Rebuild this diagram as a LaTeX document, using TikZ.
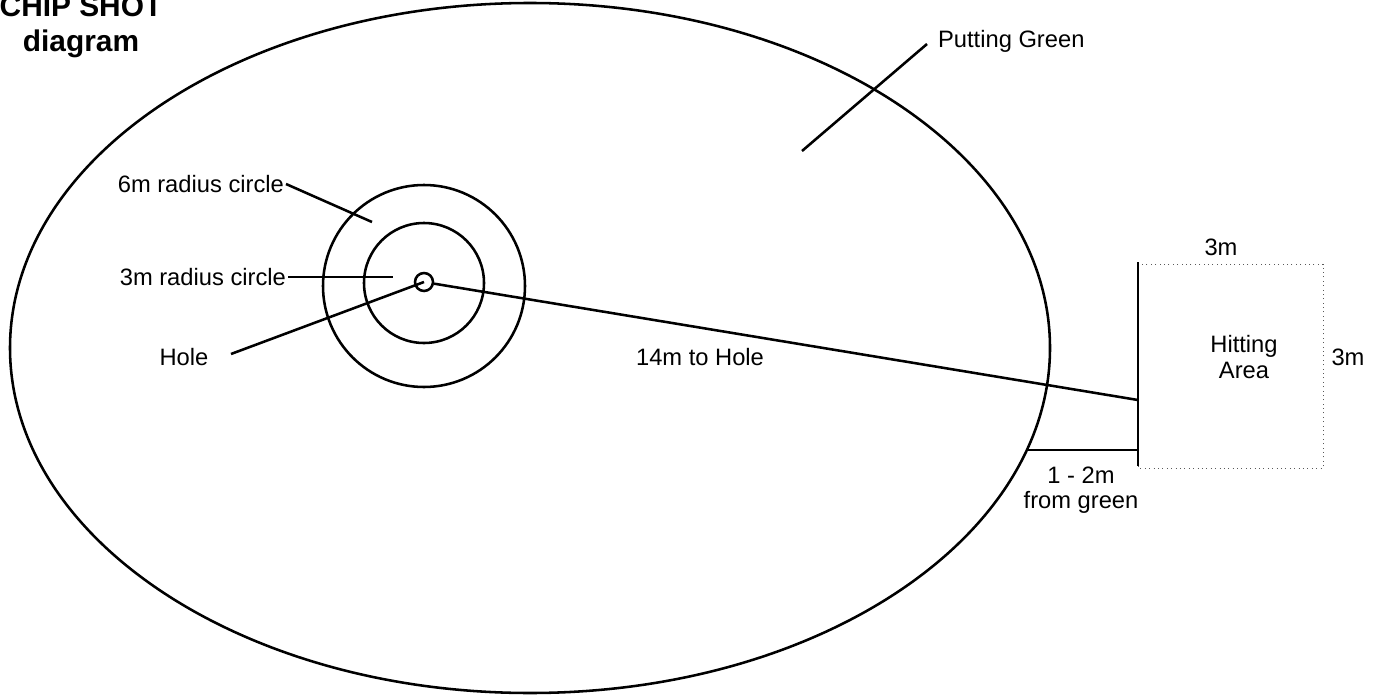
\documentclass[tikz,border=0pt]{standalone}
\usepackage{fontspec}
\setmainfont{Liberation Sans}
\usetikzlibrary{positioning}
\tikzset{
  outline/.style={line width=1.45pt},
  leader/.style={line width=1.45pt},
  lbl/.style={font=\fontsize{13.5}{14.5}\selectfont,inner sep=1pt,align=center},
  title/.style={font=\fontsize{17}{20}\selectfont\bfseries,inner sep=0pt},
  areaedge/.style={draw=black!65,dotted,line width=0.5pt},
  holemark/.style={circle,draw,line width=1.45pt,minimum size=0.36cm,inner sep=0pt},
}
\begin{document}
\begin{tikzpicture}[x=0.02cm,y=-0.02cm]
  \useasboundingbox (0,0) rectangle (1376,696);
  % putting green and target circles
  \draw[outline] (530,348) ellipse [x radius=520,y radius=345];
  \draw[outline] (424,286) circle [radius=101];
  \draw[outline] (424,283) circle [radius=60];
  \node[holemark] (hole) at (424,282) {};

  % title
  \node[title,anchor=base] (title1) at (81,17) {CHIP SHOT};
  \node[title,anchor=base] (title2) at (81,52) {diagram};

  % labels with leaders
  \node[lbl,anchor=east] (sixlbl) at (286,184) {6m radius circle};
  \coordinate (sixend) at (372,222);
  \draw[leader] (sixlbl.east) -- (sixend);
  \node[lbl,anchor=east] (threelbl) at (288,277) {3m radius circle};
  \coordinate (threeend) at (393,277);
  \draw[leader] (threelbl.east) -- (threeend);
  \node[lbl] (holelbl) at (184,357) {Hole};
  \coordinate (holestart) at (231,354);
  \draw[leader] (holestart) -- (hole.center);
  \node[lbl,anchor=west] (pglbl) at (936,41) {Putting Green};
  \coordinate (pgstart) at (927,44);
  \coordinate (pgend) at (802,151);
  \draw[leader] (pgstart) -- (pgend);

  % hitting area
  \draw[areaedge] (1138,264) rectangle (1323,468);
  \coordinate (bartop) at (1138,262);
  \coordinate (barbot) at (1138,466);
  \draw[outline] (bartop) -- (barbot);
  \node[lbl] (area) at (1244,357) {Hitting\\Area};
  \node[lbl] (widthlbl) at (1221,247) {3m};
  \node[lbl] (depthlbl) at (1348,357) {3m};

  % shot line and gap
  \coordinate (tee) at (1138,400);
  \draw[outline] (hole) -- (tee);
  \node[lbl] (distlbl) at (700,357) {14m to Hole};
  \coordinate (edge) at (1027,450);
  \coordinate (barmid) at (1138,450);
  \draw[outline] (edge) -- (barmid);
  \node[lbl] (gaplbl) at (1081,490) {1 - 2m\\from green};
\end{tikzpicture}
\end{document}
